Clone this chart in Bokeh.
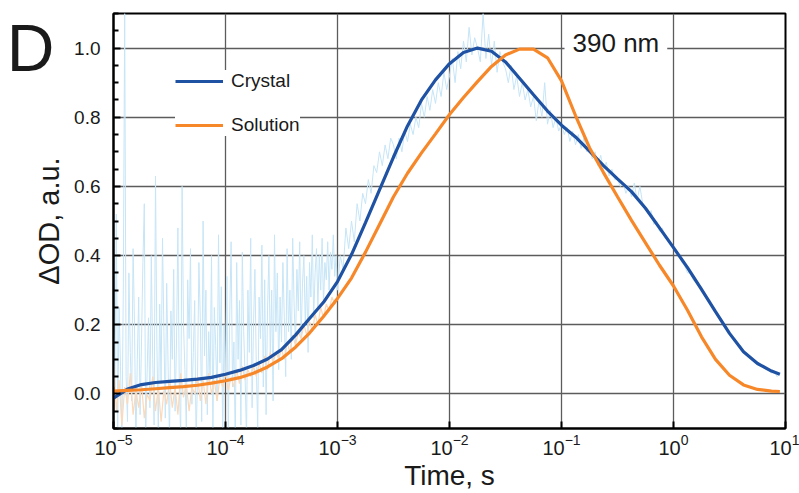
import numpy as np
from bokeh.plotting import figure
from bokeh.models import (FixedTicker, LogTickFormatter, PrintfTickFormatter,
                          CustomJSTickFormatter, LinearAxis, Legend, LegendItem,
                          Label, Range1d)
from bokeh.embed import file_html
from bokeh.resources import INLINE

FONT = "Liberation Sans"

# Fitted kinetics at 390 nm, sampled every 1/8 decade from 1e-5 s (last point 10^0.95 s)
fit_log_time = np.append(np.arange(48) * 0.125 - 5.0, 0.95)
crystal_fit = [
    -0.012, 0.014, 0.027, 0.033, 0.036, 0.039, 0.043, 0.048,
    0.057, 0.068, 0.082, 0.101, 0.128, 0.170, 0.218, 0.265,
    0.325, 0.403, 0.495, 0.590, 0.685, 0.775, 0.850, 0.908,
    0.955, 0.987, 1.000, 0.991, 0.960, 0.913, 0.865, 0.818,
    0.777, 0.743, 0.702, 0.660, 0.622, 0.585, 0.537, 0.480,
    0.423, 0.365, 0.302, 0.238, 0.175, 0.122, 0.088, 0.066,
    0.057,
]
solution_fit = [
    0.008, 0.010, 0.012, 0.015, 0.018, 0.021, 0.025, 0.031,
    0.038, 0.047, 0.060, 0.078, 0.102, 0.135, 0.176, 0.224,
    0.276, 0.335, 0.410, 0.490, 0.570, 0.638, 0.697, 0.752,
    0.808, 0.857, 0.903, 0.947, 0.980, 0.997, 0.997, 0.972,
    0.905, 0.805, 0.712, 0.640, 0.570, 0.502, 0.437, 0.372,
    0.312, 0.242, 0.165, 0.100, 0.054, 0.026, 0.013, 0.008,
    0.007,
]

# Raw crystal trace: every 1/80 decade from 1e-5 s to 1e-3 s ...
crystal_raw_early = [
    0.18, 0.02, 0.52, -0.10, 0.25, 0.08, -0.14, 0.30, 1.10, 0.05,
    -0.08, 0.35, 0.12, -0.02, 0.42, 0.20, -0.15, 0.10, 0.28, -0.06,
    0.15, 0.38, 0.55, -0.12, 0.06, 0.22, -0.04, 0.40, 0.10, -0.09,
    0.63, 0.14, -0.11, 0.26, 0.03, 0.45, 0.18, -0.07, 0.32, 0.08,
    -0.13, 0.24, 0.10, 0.36, -0.05, 0.15, 0.48, 0.02, -0.12, 0.60,
    0.20, 0.07, -0.10, 0.33, 0.16, 0.42, -0.03, 0.12, 0.27, -0.14,
    0.05, 0.38, 0.22, -0.08, 0.50, 0.11, 0.30, -0.06, 0.18, 0.04,
    0.40, -0.11, 0.25, 0.14, -0.02, 0.46, 0.09, 0.31, -0.13, 0.20,
    0.06, 0.34, -0.12, 0.22, 0.44, 0.02, 0.15, -0.15, 0.38, 0.10,
    0.27, -0.09, 0.41, 0.18, 0.05, -0.13, 0.30, 0.12, 0.45, -0.04,
    0.20, 0.36, 0.08, -0.10, 0.28, 0.16, 0.43, 0.02, 0.33, -0.06,
    0.24, 0.40, 0.11, 0.30, -0.02, 0.46, 0.18, 0.35, 0.07, 0.28,
    0.15, 0.38, 0.22, 0.05, 0.42, 0.18, 0.30, 0.10, 0.45, 0.26,
    0.14, 0.36, 0.24, 0.44, 0.16, 0.32, 0.40, 0.20, 0.34, 0.12,
    0.38, 0.28, 0.46, 0.22, 0.35, 0.42, 0.25, 0.40, 0.30, 0.45,
    0.26, 0.38, 0.33, 0.44, 0.30, 0.41, 0.36, 0.46, 0.34, 0.40,
]
# ... then every 1/40 decade from 1e-3 s
crystal_raw_late = [
    0.30, 0.40, 0.36, 0.48, 0.42, 0.50, 0.44, 0.55, 0.50, 0.58,
    0.55, 0.62, 0.58, 0.66, 0.64, 0.70, 0.66, 0.72, 0.68, 0.74,
    0.72, 0.68, 0.74, 0.70, 0.76, 0.73, 0.78, 0.75, 0.80, 0.77,
    0.84, 0.80, 0.86, 0.82, 0.88, 0.84, 0.90, 0.86, 0.93, 0.88,
    0.92, 0.97, 0.90, 0.99, 0.94, 1.02, 0.96, 1.06, 0.98, 1.03,
    1.00, 0.96, 1.10, 0.97, 1.04, 0.95, 1.02, 0.93, 0.99, 0.96,
    0.94, 0.90, 0.95, 0.88, 0.92, 0.86, 0.90, 0.85, 0.88, 0.83,
    0.86, 0.79, 0.85, 0.80, 0.90, 0.78, 0.82, 0.77, 0.80, 0.76,
    0.78, 0.75, 0.77, 0.73, 0.76, 0.72, 0.75, 0.71, 0.74, 0.70,
    0.71, 0.68, 0.70, 0.66, 0.69, 0.65, 0.67, 0.63, 0.65, 0.62,
    0.62, 0.60, 0.61, 0.58, 0.60, 0.57, 0.61, 0.56, 0.60, 0.55,
    0.54, 0.52, 0.53, 0.49, 0.50, 0.47, 0.48, 0.45, 0.45, 0.43,
    0.42, 0.41, 0.40, 0.38, 0.37, 0.35, 0.35, 0.33, 0.32, 0.31,
    0.31, 0.29, 0.28, 0.27, 0.25, 0.24, 0.22, 0.22, 0.20, 0.19,
    0.18, 0.16, 0.16, 0.14, 0.14, 0.12, 0.12, 0.11, 0.10, 0.09,
    0.09, 0.08, 0.08, 0.07, 0.07, 0.06, 0.065, 0.05, 0.06,
]
# Raw solution trace, every 1/40 decade from 1e-5 s to 1e-3 s
solution_raw = [
    0.10, -0.05, 0.04, -0.09, 0.02, -0.03, 0.06, -0.06, 0.01, -0.04,
    0.03, -0.07, 0.00, -0.02, 0.05, -0.05, 0.02, -0.08, 0.01, -0.03,
    0.04, -0.04, 0.02, -0.06, 0.06, -0.01, 0.03, -0.05, 0.02, 0.00,
    0.05, -0.02, 0.04, -0.03, 0.06, 0.00, 0.04, -0.02, 0.05, 0.02,
    0.06, 0.01, 0.05, 0.02, 0.07, 0.03, 0.08, 0.04, 0.07, 0.05,
    0.08, 0.05, 0.09, 0.06, 0.11, 0.07, 0.12, 0.09, 0.12, 0.10,
    0.13, 0.10, 0.15, 0.12, 0.17, 0.14, 0.18, 0.16, 0.20, 0.17,
    0.21, 0.18, 0.23, 0.20, 0.25, 0.22, 0.26, 0.24, 0.28, 0.26,
    0.28,
]

x_ticks = [1e-5, 1e-4, 1e-3, 1e-2, 1e-1, 1e0, 1e1]
y_ticks = [0.0, 0.2, 0.4, 0.6, 0.8, 1.0]
y_minor = [-0.10, -0.05, 0.05, 0.10, 0.15, 0.25, 0.30, 0.35, 0.45, 0.50, 0.55,
           0.65, 0.70, 0.75, 0.85, 0.90, 0.95, 1.05, 1.10]

BLUE = "#1f52a3"
ORANGE = "#f7882a"
BLUE_RAW = "#c6e5f7"
ORANGE_RAW = "#fbd9bb"

fit_t = 10.0 ** fit_log_time
cry_raw_t = np.concatenate([
    10.0 ** (np.arange(len(crystal_raw_early)) * 0.0125 - 5.0),
    10.0 ** (np.arange(len(crystal_raw_late)) * 0.025 - 3.0),
])
crystal_raw = crystal_raw_early + crystal_raw_late
sol_raw_t = 10.0 ** (np.arange(len(solution_raw)) * 0.025 - 5.0)

p = figure(width=799, height=493, x_axis_type="log",
           x_range=Range1d(1e-5, 1e1), y_range=Range1d(-0.1, 1.1),
           output_backend="svg", toolbar_location=None,
           min_border_left=113, min_border_right=14,
           min_border_top=13, min_border_bottom=65)
p.background_fill_color = "white"
p.border_fill_color = "white"
p.outline_line_color = "black"
p.outline_line_width = 2
p.outline_line_alpha = 1.0

# grid
p.xgrid.ticker = FixedTicker(ticks=x_ticks)
p.ygrid.ticker = FixedTicker(ticks=y_ticks)
for g in (p.xgrid, p.ygrid):
    g.grid_line_color = "#5c5c5c"
    g.grid_line_width = 1.3

# axes
p.xaxis.ticker = FixedTicker(ticks=x_ticks)
p.xaxis.formatter = LogTickFormatter()
p.yaxis.ticker = FixedTicker(ticks=y_ticks, minor_ticks=y_minor)
p.yaxis.formatter = PrintfTickFormatter(format="%.1f")
for ax in (p.xaxis, p.yaxis):
    ax.axis_line_color = "black"
    ax.axis_line_width = 2
    ax.major_tick_line_color = "black"
    ax.major_tick_line_width = 2
    ax.minor_tick_line_color = "black"
    ax.minor_tick_line_width = 2
    ax.major_tick_in = 7
    ax.major_tick_out = 0
    ax.minor_tick_in = 5
    ax.minor_tick_out = 0
    ax.major_label_text_font = FONT
    ax.major_label_text_color = "#1a1a1a"
    ax.axis_label_text_font = FONT
    ax.axis_label_text_font_style = "normal"
    ax.axis_label_text_color = "#1a1a1a"
p.xaxis.major_label_text_font_size = "20px"
p.yaxis.major_label_text_font_size = "19px"
p.xaxis.axis_label = "Time, s"
p.yaxis.axis_label = "ΔOD, a.u."
p.xaxis.axis_label_text_font_size = "28px"
p.yaxis.axis_label_text_font_size = "29px"
p.xaxis.major_label_standoff = 5
p.xaxis.axis_label_standoff = 2
p.yaxis.major_label_standoff = 13
p.yaxis.axis_label_standoff = 6

# panel letter: a bare outer axis whose only tick label is "D"
panel_axis = LinearAxis(ticker=FixedTicker(ticks=[1.0]),
                        formatter=CustomJSTickFormatter(code="return 'D'"),
                        axis_line_color=None, major_tick_line_color=None,
                        minor_tick_line_color=None,
                        major_tick_in=0, major_tick_out=0,
                        major_label_text_font=FONT,
                        major_label_text_font_size="66px",
                        major_label_text_color="#1a1a1a",
                        major_label_standoff=-24)
p.add_layout(panel_axis, "left")

# raw traces
p.line(cry_raw_t, crystal_raw, line_color=BLUE_RAW, line_width=1.0)
p.line(sol_raw_t, solution_raw, line_color=ORANGE_RAW, line_width=1.2)

# fitted curves
r_cry = p.line(fit_t, crystal_fit, line_color=BLUE, line_width=3.2)
r_sol = p.line(fit_t, solution_fit, line_color=ORANGE, line_width=3.2)

legend = Legend(items=[LegendItem(label="Crystal", renderers=[r_cry]),
                       LegendItem(label="Solution", renderers=[r_sol])],
                location=(62, 292))
legend.background_fill_color = "white"
legend.background_fill_alpha = 1.0
legend.border_line_color = None
legend.label_text_font = FONT
legend.label_text_font_size = "19px"
legend.label_text_color = "#1a1a1a"
legend.glyph_width = 48
legend.glyph_height = 20
legend.label_height = 20
legend.label_standoff = 8
legend.spacing = 22
legend.padding = 14
p.add_layout(legend, "center")

wave = Label(x=10 ** -0.973, y=1.015, text="390 nm", text_font=FONT,
             text_font_size="26px", text_color="#1a1a1a",
             text_align="left", text_baseline="alphabetic",
             background_fill_color="white", background_fill_alpha=1.0,
             padding=8)
p.add_layout(wave)

open("out.html", "w").write(file_html(p, INLINE))
